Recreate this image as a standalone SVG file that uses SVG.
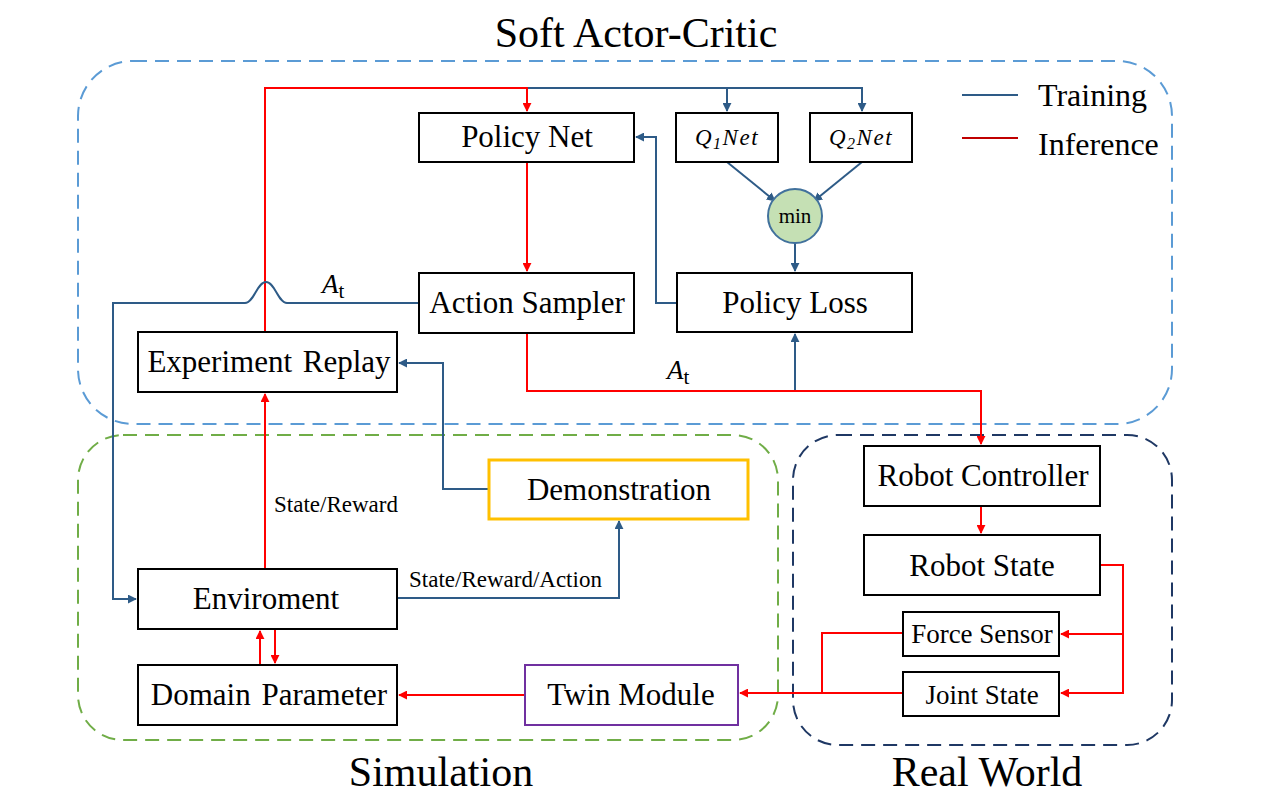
<svg xmlns="http://www.w3.org/2000/svg" width="1280" height="796" viewBox="0 0 1280 796" font-family="'Liberation Serif', 'Times New Roman', serif">
<defs>
<marker id="ar" viewBox="0 0 10 10" refX="9" refY="5" markerWidth="4.5" markerHeight="4.5" orient="auto-start-reverse"><path d="M0,0 L10,5 L0,10 z" fill="#ff0000"/></marker>
<marker id="ab" viewBox="0 0 10 10" refX="9" refY="5" markerWidth="4.5" markerHeight="4.5" orient="auto-start-reverse"><path d="M0,0 L10,5 L0,10 z" fill="#2e5b87"/></marker>
</defs>
<style>
text{font-family:'Liberation Serif','Times New Roman',serif;fill:#000}
.box{fill:#fff;stroke:#000;stroke-width:2}
.t{font-size:31px;text-anchor:middle}
.s{font-size:27px;text-anchor:middle}
.lbl{font-size:23px}
.big{font-size:42px;text-anchor:middle}
.leg{font-size:32px}
.q{font-size:23px;font-style:italic;text-anchor:middle;letter-spacing:1.5px}
.r{fill:none;stroke:#ff0000;stroke-width:2}
.b{fill:none;stroke:#2e5b87;stroke-width:2}
</style>
<rect width="1280" height="796" fill="#fff"/>
<g id="containers">
<rect x="78" y="61" width="1094" height="363" rx="55" fill="none" stroke="#5b9bd5" stroke-width="2" stroke-dasharray="14,8"/>
<rect x="78" y="435" width="700" height="305" rx="45" fill="none" stroke="#70ad47" stroke-width="2" stroke-dasharray="14,8"/>
<rect x="793" y="435" width="379" height="310" rx="45" fill="none" stroke="#1f3864" stroke-width="2" stroke-dasharray="14,8"/>
<text class="big" x="636" y="47">Soft Actor-Critic</text>
<text class="big" x="441" y="786">Simulation</text>
<text class="big" x="987" y="786">Real World</text>
</g>
<g id="legend">
<line x1="962" y1="95" x2="1018" y2="95" stroke="#2e5b87" stroke-width="2"/>
<text class="leg" x="1038" y="106">Training</text>
<line x1="962" y1="138" x2="1018" y2="138" stroke="#c00000" stroke-width="2"/>
<text class="leg" x="1038" y="155">Inference</text>
</g>
<g id="connectors">
<path class="b" d="M527,88 H862 V111" marker-end="url(#ab)"/>
<path class="b" d="M727,88 V111" marker-end="url(#ab)"/>
<path class="r" d="M265,332 V88 H527 V111" marker-end="url(#ar)"/>
<path class="r" d="M527,162 V271" marker-end="url(#ar)"/>
<path class="b" d="M727,162 L775,201" marker-end="url(#ab)"/>
<path class="b" d="M862,162 L814,201" marker-end="url(#ab)"/>
<path class="b" d="M795,243 V271" marker-end="url(#ab)"/>
<path class="b" d="M677,303 H656 V137 H636" marker-end="url(#ab)"/>
<path class="b" d="M795,391 V334" marker-end="url(#ab)"/>
<path class="r" d="M527,333 V391 H981 V444" marker-end="url(#ar)"/>
<path class="b" d="M419,303 H287 C278,303 275,282 266,282 C257,282 254,303 245,303 H113 V599 H136" marker-end="url(#ab)"/>
<path class="r" d="M265,569 V394" marker-end="url(#ar)"/>
<path class="b" d="M489,489 H443 V363 H399" marker-end="url(#ab)"/>
<path class="b" d="M397,598 H619 V521" marker-end="url(#ab)"/>
<path class="r" d="M260,665 V631" marker-end="url(#ar)"/>
<path class="r" d="M275,629 V663" marker-end="url(#ar)"/>
<path class="r" d="M525,695 H399" marker-end="url(#ar)"/>
<path class="r" d="M981,506 V533" marker-end="url(#ar)"/>
<path class="r" d="M1100,565 H1123 V693 H1061" marker-end="url(#ar)"/>
<path class="r" d="M1123,634 H1061" marker-end="url(#ar)"/>
<path class="r" d="M903,633 H822 V693"/>
<path class="r" d="M903,693 H740" marker-end="url(#ar)"/>
<text x="322" y="293" style="font-size:27px;font-style:italic">A<tspan style="font-style:normal;font-size:21px" dy="5">t</tspan></text>
<text x="667" y="379" style="font-size:27px;font-style:italic">A<tspan style="font-style:normal;font-size:21px" dy="5">t</tspan></text>
<text class="lbl" x="274" y="512">State/Reward</text>
<text class="lbl" x="409" y="587">State/Reward/Action</text>
</g>
<g id="policy-net"><rect class="box" x="419" y="113" width="215" height="49"/><text class="t" x="527" y="147">Policy Net</text></g>
<g id="q1-net"><rect class="box" x="676" y="113" width="102" height="49"/><text class="q" x="727" y="145">Q<tspan style="font-size:16px" dy="4">1</tspan><tspan dy="-4">Net</tspan></text></g>
<g id="q2-net"><rect class="box" x="810" y="113" width="102" height="49"/><text class="q" x="861" y="145">Q<tspan style="font-size:16px" dy="4">2</tspan><tspan dy="-4">Net</tspan></text></g>
<g id="min"><circle cx="795" cy="216" r="27" fill="#c5e0b4" stroke="#41719c" stroke-width="2"/><text x="795" y="223" style="font-size:21px;text-anchor:middle">min</text></g>
<g id="action-sampler"><rect class="box" x="419" y="273" width="215" height="60"/><text class="t" x="527" y="313">Action Sampler</text></g>
<g id="policy-loss"><rect class="box" x="677" y="273" width="235" height="59"/><text class="t" x="795" y="313">Policy Loss</text></g>
<g id="experiment-replay"><rect class="box" x="138" y="332" width="259" height="60"/><text class="t" x="269" y="372" style="word-spacing:3px">Experiment Replay</text></g>
<g id="demonstration"><rect class="box" x="489" y="460" width="259" height="59" style="stroke:#ffc000;stroke-width:3"/><text class="t" x="619" y="500">Demonstration</text></g>
<g id="enviroment"><rect class="box" x="138" y="569" width="259" height="60"/><text class="t" x="266" y="609">Enviroment</text></g>
<g id="domain-parameter"><rect class="box" x="138" y="665" width="259" height="60"/><text class="t" x="269" y="705" style="word-spacing:3px">Domain Parameter</text></g>
<g id="twin-module"><rect class="box" x="525" y="665" width="213" height="60" style="stroke:#7030a0"/><text class="t" x="631" y="705">Twin Module</text></g>
<g id="robot-controller"><rect class="box" x="864" y="446" width="236" height="60"/><text class="t" x="983" y="486">Robot Controller</text></g>
<g id="robot-state"><rect class="box" x="864" y="535" width="236" height="60"/><text class="t" x="982" y="576">Robot State</text></g>
<g id="force-sensor"><rect class="box" x="903" y="612" width="156" height="44"/><text class="s" x="982" y="643">Force Sensor</text></g>
<g id="joint-state"><rect class="box" x="903" y="672" width="156" height="44"/><text class="s" x="982" y="704">Joint State</text></g>
</svg>
